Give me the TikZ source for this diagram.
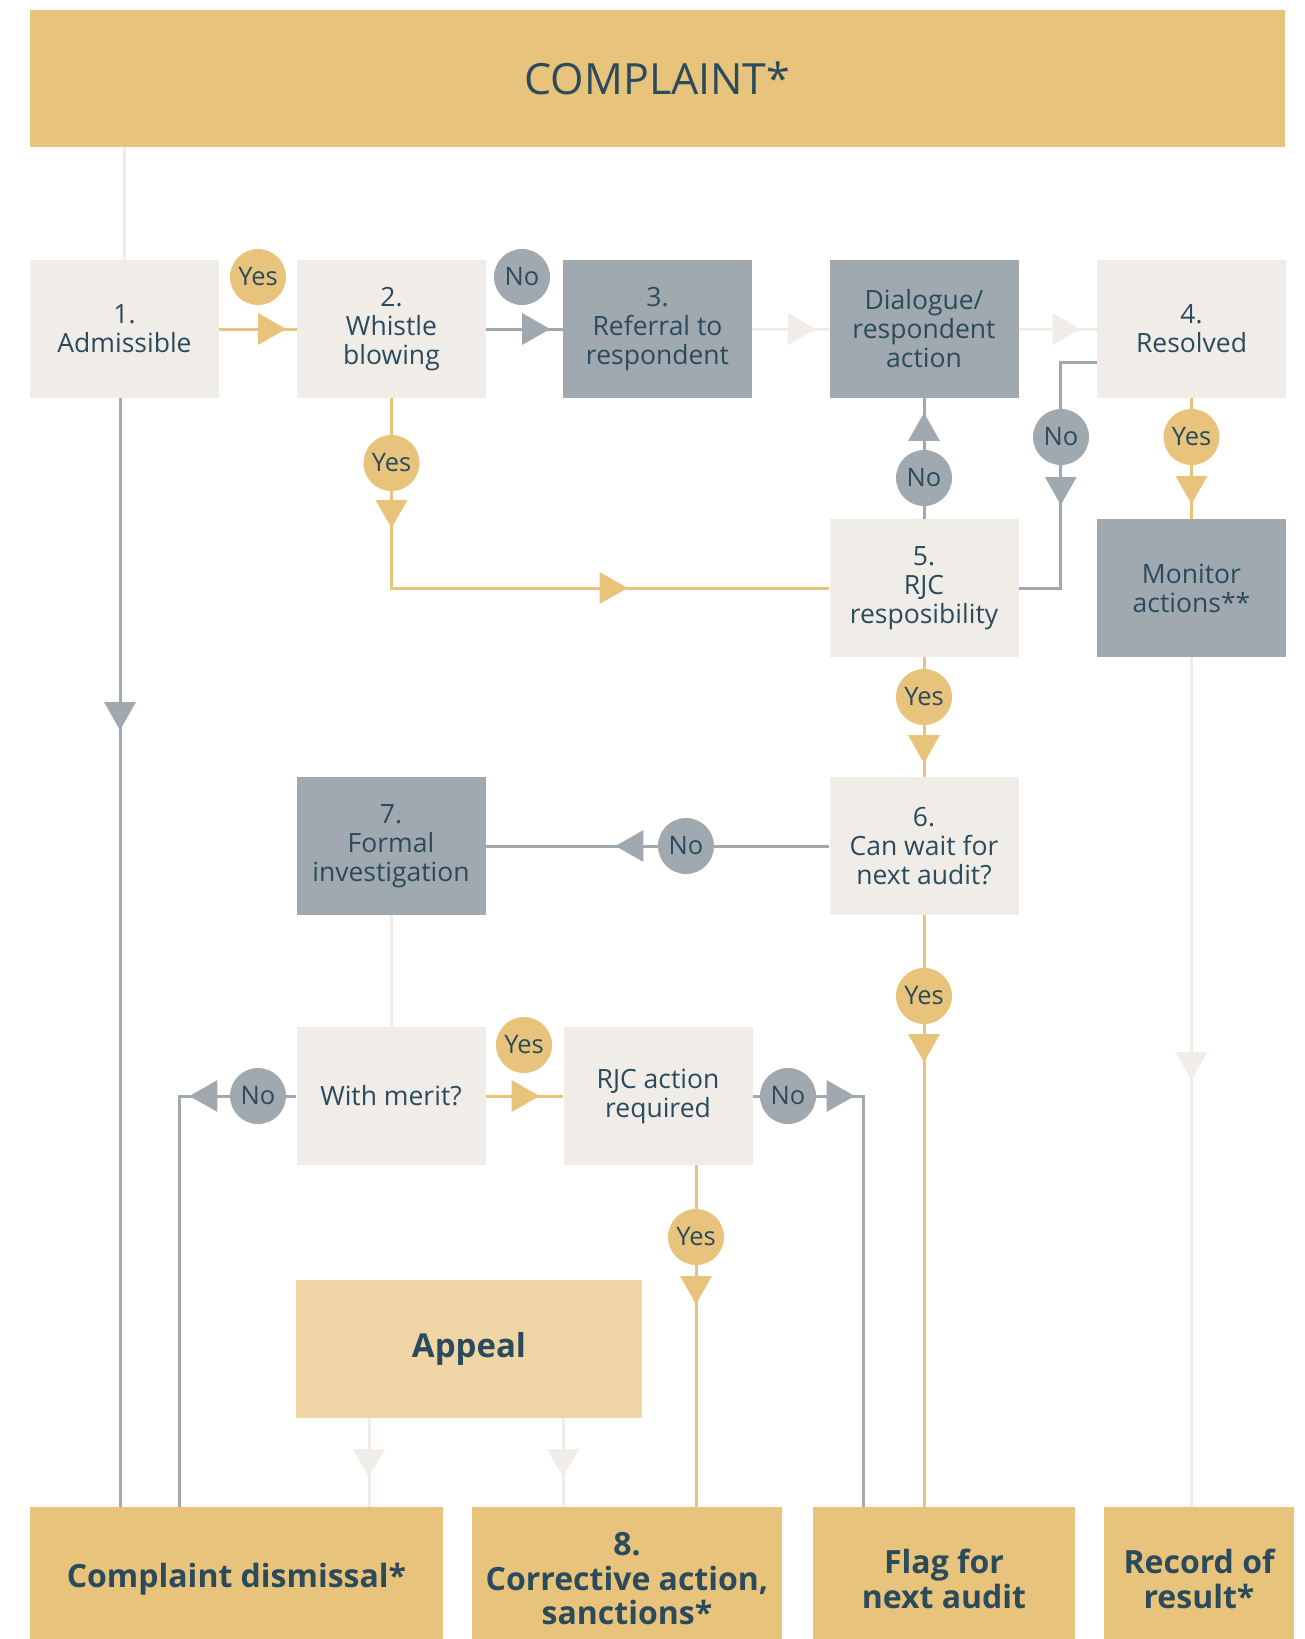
\documentclass[tikz,border=0pt]{standalone}
\usepackage{fontspec}
\setmainfont{Open Sans}
\usetikzlibrary{arrows.meta,decorations.markings}
\definecolor{gold}{HTML}{E8C37B}
\definecolor{pale}{HTML}{F0D6A6}
\definecolor{lite}{HTML}{F0EDE8}
\definecolor{slate}{HTML}{A0A8B0}
\definecolor{ink}{HTML}{2B4B5C}
\begin{document}
\begin{tikzpicture}[x=1pt,y=-1pt,
  box/.style={rectangle, inner sep=0pt, minimum width=189pt, minimum height=138pt,
    align=center, text=ink, font=\fontsize{26.5}{29}\selectfont},
  litebox/.style={box, fill=lite},
  graybox/.style={box, fill=slate},
  endbox/.style={rectangle, inner sep=0pt, minimum height=144pt, fill=gold,
    align=center, text=ink, font=\bfseries\fontsize{32}{34.5}\selectfont},
  yes/.style={circle, fill=gold, minimum size=56pt, inner sep=0pt, text=ink,
    font=\fontsize{25.5}{25.5}\selectfont},
  no/.style={yes, fill=slate},
  ln/.style={line width=3pt},
  goldln/.style={ln, draw=gold},
  grayln/.style={ln, draw=slate},
  liteln/.style={ln, draw=lite},
  tipat/.style={postaction={decorate, decoration={markings,
    mark=at position #1 with {\arrow{Triangle[length=28pt,width=31pt]}}}}}
]
\useasboundingbox (0,0) rectangle (1305,1639);

% banner
\node[rectangle, fill=gold, minimum width=1255pt, minimum height=137pt, inner sep=0pt,
  text=ink, font=\fontsize{43}{45}\selectfont] (banner) at (657.5,78.5) {COMPLAINT*};

% row 1
\node[litebox] (n1) at (124.5,329) {1.\\Admissible};
\node[litebox] (n2) at (391.5,329) {2.\\Whistle\\blowing};
\node[graybox] (n3) at (657.5,329) {3.\\Referral to\\respondent};
\node[graybox] (nd) at (924,329) {Dialogue/\\respondent\\action};
\node[litebox] (n4) at (1191.5,329) {4.\\Resolved};
% row 2
\node[litebox] (n5) at (924,588) {5.\\RJC\\resposibility};
\node[graybox] (nm) at (1191.5,588) {Monitor\\actions**};
% row 3
\node[graybox] (n7) at (391,846) {7.\\Formal\\investigation};
\node[litebox] (n6) at (924,846) {6.\\Can wait for\\next audit?};
% row 4
\node[litebox] (nwm) at (391,1096) {With merit?};
\node[litebox] (nra) at (658,1096) {RJC action\\required};
% appeal
\node[rectangle, fill=pale, minimum width=346pt, minimum height=138pt, inner sep=0pt,
  text=ink, font=\bfseries\fontsize{33}{35}\selectfont] (nap) at (469,1349) {Appeal};
% bottom row (extends below the page edge)
\node[endbox, minimum width=413pt] (ncd) at (236.5,1579) {Complaint dismissal*};
\node[endbox, minimum width=310pt] (n8) at (627,1579) {8.\\Corrective action,\\sanctions*};
\node[endbox, minimum width=262pt] (nflag) at (944,1579) {Flag for\\next audit};
\node[endbox, minimum width=190pt] (nrec) at (1199,1579) {Record of\\result*};

% helper coordinates
\coordinate (c19) at ([xshift=-4.5pt]n1.south);
\coordinate (c18) at ([xshift=38pt]nra.south);
\coordinate (c20) at ([xshift=-100pt]nap.south);
\coordinate (c21) at ([xshift=94pt]nap.south);
\coordinate (c16) at ([xshift=-57.5pt]ncd.north);
\coordinate (c17) at ([xshift=-81pt]nflag.north);
\coordinate (c8) at ([yshift=-33pt]n4.west);

% connectors
\draw[liteln] (n1.north) -- (n1.north |- banner.south);
\draw[goldln, tipat=67pt] (n1.east) -- (n2.west);
\draw[grayln, tipat=64pt] (n2.east) -- (n3.west);
\draw[liteln, tipat=64pt] (n3.east) -- (nd.west);
\draw[liteln, tipat=62pt] (nd.east) -- (n4.west);
\draw[goldln, tipat=130pt, tipat=426pt] (n2.south) |- (n5.west);
\draw[grayln, tipat=106pt] (n5.north) -- (nd.south);
\draw[grayln, tipat=179pt] (c8) -- ++(-36,0) |- (n5.east);
\draw[goldln, tipat=106pt] (n4.south) -- (nm.north);
\draw[liteln, tipat=423pt] (nm.south) -- (nm.south |- nrec.north);
\draw[goldln, tipat=106pt] (n5.south) -- (n6.north);
\draw[grayln, tipat=214pt] (n6.west) -- (n7.east);
\draw[goldln, tipat=147pt] (n6.south) -- (n6.south |- nflag.north);
\draw[liteln] (n7.south) -- (nwm.north);
\draw[goldln, tipat=54pt] (nwm.east) -- (nra.west);
\draw[grayln, tipat=107pt] (nwm.west) -| (c16);
\draw[grayln, tipat=102pt] (nra.east) -| (c17);
\draw[goldln, tipat=139pt] (c18) -- (c18 |- n8.north);
\draw[grayln, tipat=332pt] (c19) -- (c19 |- ncd.north);
\draw[liteln, tipat=59pt] (c20) -- (c20 |- ncd.north);
\draw[liteln, tipat=59pt] (c21) -- (c21 |- n8.north);

% labels
\node[yes] (l1) at (258,277) {Yes};
\node[no] (l2) at (522,277) {No};
\node[yes] (l3) at (391.5,463) {Yes};
\node[no] (l4) at (924,478) {No};
\node[no] (l5) at (1061,437) {No};
\node[yes] (l6) at (1191.5,437) {Yes};
\node[yes] (l7) at (924,697) {Yes};
\node[no] (l8) at (686,846) {No};
\node[yes] (l9) at (924,996) {Yes};
\node[yes] (l10) at (524,1045) {Yes};
\node[no] (l11) at (258,1096) {No};
\node[no] (l12) at (788,1096) {No};
\node[yes] (l13) at (696,1237) {Yes};
\end{tikzpicture}
\end{document}
